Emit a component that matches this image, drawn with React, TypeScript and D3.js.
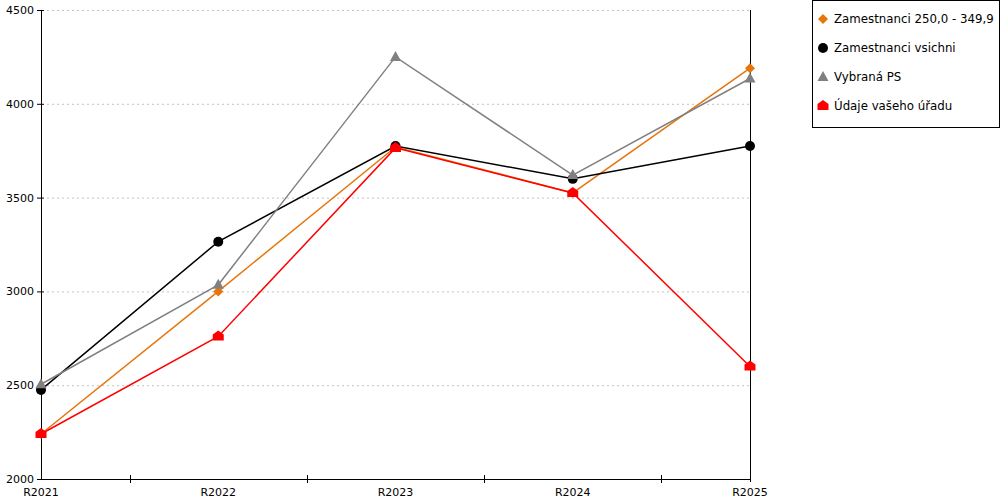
import React from 'react';
import * as d3 from 'd3';

const categories = ['R2021', 'R2022', 'R2023', 'R2024', 'R2025'];
const yTicks = [2000, 2500, 3000, 3500, 4000, 4500];

const orangeValues = [2240, 3000, 3770, 3525, 4190];
const blackValues = [2475, 3265, 3775, 3600, 3775];
const grayValues = [2505, 3035, 4250, 3620, 4135];
const redValues = [2240, 2760, 3765, 3525, 2600];

type Shape = 'diamond' | 'circle' | 'triangle' | 'house';

interface Series {
  name: string;
  values: number[];
  color: string;
  shape: Shape;
}

const series: Series[] = [
  { name: 'Zamestnanci 250,0 - 349,9', values: orangeValues, color: '#e8740c', shape: 'diamond' },
  { name: 'Zamestnanci vsichni', values: blackValues, color: '#000000', shape: 'circle' },
  { name: 'Vybraná PS', values: grayValues, color: '#808080', shape: 'triangle' },
  { name: 'Údaje vašeho úřadu', values: redValues, color: '#ff0000', shape: 'house' }
];

const width = 1000;
const height = 500;
const margin = { top: 10, right: 250, bottom: 21, left: 41 };

const font = '"DejaVu Sans", Verdana, sans-serif';

const Marker: React.FC<{ shape: Shape; x: number; y: number; color: string }> = ({ shape, x, y, color }) => {
  if (shape === 'circle') return <circle cx={x} cy={y} r={5} fill={color} />;
  if (shape === 'diamond') {
    const s = 5;
    return <path d={`M${x},${y - s}L${x + s},${y}L${x},${y + s}L${x - s},${y}Z`} fill={color} />;
  }
  if (shape === 'triangle') {
    return <path d={`M${x},${y - 6}L${x + 5.5},${y + 4}L${x - 5.5},${y + 4}Z`} fill={color} />;
  }
  // house: square with a pointed roof
  return <path d={`M${x},${y - 6}L${x + 5.5},${y - 2}L${x + 5.5},${y + 4}L${x - 5.5},${y + 4}L${x - 5.5},${y - 2}Z`} fill={color} />;
};

const App: React.FC = () => {
  const x = d3.scalePoint<string>()
    .domain(categories)
    .range([margin.left, width - margin.right]);

  const y = d3.scaleLinear()
    .domain([2000, 4500])
    .range([height - margin.bottom, margin.top]);

  const line = d3.line<number>()
    .x((_, i) => x(categories[i]) as number)
    .y(d => y(d));

  const step = x.step();
  const midTicks = categories.slice(0, -1).map(c => (x(c) as number) + step / 2);

  const x0 = margin.left;
  const x1 = width - margin.right;
  const yBottom = y(2000);

  return (
    <svg width={width} height={height} style={{ position: 'absolute', left: 0, top: 0, background: '#fff' }}>
      {/* grid */}
      {yTicks.filter(t => t > 2000).map(t => (
        <line key={`g${t}`} x1={x0 + 6} x2={x1} y1={y(t) + 0.5} y2={y(t) + 0.5}
          stroke="#c4c4c4" strokeDasharray="2,3" />
      ))}

      {/* lines */}
      {series.map(s => (
        <path key={s.name} d={line(s.values) || ''} fill="none" stroke={s.color} strokeWidth={1.5} />
      ))}

      {/* axes */}
      <line x1={x0 + 0.5} x2={x0 + 0.5} y1={margin.top} y2={yBottom} stroke="#000" />
      <line x1={x1 + 0.5} x2={x1 + 0.5} y1={margin.top} y2={yBottom + 3} stroke="#000" />
      <line x1={x0} x2={x1} y1={yBottom + 0.5} y2={yBottom + 0.5} stroke="#000" />
      {yTicks.map(t => (
        <g key={`y${t}`}>
          <line x1={x0 - 4} x2={x0 + 3} y1={y(t) + 0.5} y2={y(t) + 0.5} stroke="#000" />
          <text x={x0 - 7} y={y(t) + 4} textAnchor="end" fontFamily={font} fontSize={11} fill="#000">{t}</text>
        </g>
      ))}
      {midTicks.map(m => (
        <line key={`m${m}`} x1={Math.round(m) + 0.5} x2={Math.round(m) + 0.5} y1={yBottom - 4} y2={yBottom + 4} stroke="#000" />
      ))}
      {categories.map(c => (
        <text key={c} x={x(c) as number} y={yBottom + 17} textAnchor="middle" fontFamily={font} fontSize={11} fill="#000">{c}</text>
      ))}

      {/* markers */}
      {series.map(s => (
        <g key={`mk${s.name}`}>
          {s.values.map((v, i) => (
            <Marker key={i} shape={s.shape} x={x(categories[i]) as number} y={y(v)} color={s.color} />
          ))}
        </g>
      ))}

      {/* legend */}
      <rect x={812.5} y={0.5} width={187} height={127} fill="#fff" stroke="#000" />
      {series.map((s, i) => (
        <g key={`lg${s.name}`}>
          <Marker shape={s.shape} x={823} y={19 + i * 29} color={s.color} />
          <text x={834} y={23 + i * 29} fontFamily={font} fontSize={11.8} fill="#000">{s.name}</text>
        </g>
      ))}
    </svg>
  );
};

export default App;
